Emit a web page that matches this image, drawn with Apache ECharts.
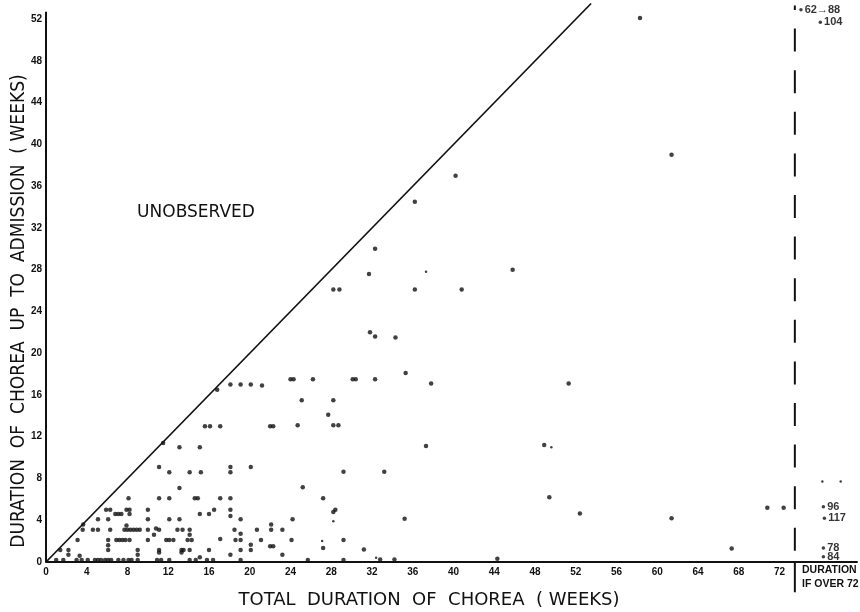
<!DOCTYPE html>
<html><head><meta charset="utf-8">
<script src="https://cdn.jsdelivr.net/npm/echarts@6/dist/echarts.min.js"></script>
<style>html,body{margin:0;padding:0;background:#fff}#c{width:860px;height:612px}</style>
</head><body><div id="c"></div>
<script>
// x = total duration of chorea (weeks), y = duration up to admission (weeks)
const upperPoints = [
[58.3,52.1],[61.4,39.0],[40.2,37.0],[36.2,34.5],[32.3,30.0],[31.7,27.6],[45.8,28.0],
[28.2,26.1],[28.8,26.1],[36.2,26.1],[40.8,26.1],[31.8,22.0],[32.3,21.6],[34.3,21.5],[35.3,18.1],
[24.0,17.5],[24.3,17.5],[26.2,17.5],[30.1,17.5],[30.4,17.5],[32.3,17.5],[37.8,17.1],[51.3,17.1],
[16.8,16.5],[18.1,17.0],[19.1,17.0],[20.1,17.0],[21.2,16.9],
[25.1,15.5],[28.2,15.5],[27.7,14.1],
[15.6,13.0],[16.1,13.0],[17.1,13.0],[22.0,13.0],[22.3,13.0],[24.7,13.1],[28.2,13.1],[28.7,13.1],
[11.5,11.4],[13.1,11.0],[15.1,11.0],[37.3,11.1],[48.9,11.2]
];
const midPoints = [
[11.1,9.1],[12.1,8.6],[14.1,8.6],[15.2,8.6],[18.1,9.1],[18.1,8.6],[20.1,9.1],[29.2,8.65],[33.2,8.65],
[13.1,7.1],[25.2,7.15],
[8.1,6.1],[11.1,6.1],[12.1,6.1],[14.6,6.1],[14.9,6.1],[17.1,6.1],[18.1,6.1],[27.2,6.1],[49.4,6.2],
[5.9,5.0],[6.3,5.0],[7.9,5.0],[8.2,5.0],[10.0,5.0],[16.5,5.0],[18.1,5.0],[28.4,5.0],[28.2,4.8],
[52.4,4.65],[70.8,5.2],[72.4,5.2]
];
const lowLeftPoints = [
[6.8,4.6],[7.1,4.6],[7.4,4.6],[8.2,4.6],
[5.1,4.1],[6.1,4.1],[10.0,4.1],[3.65,3.6],
[3.6,3.1],[4.6,3.1],[5.1,3.1],[6.3,3.1],[7.7,3.1],[8.0,3.1],[8.3,3.1],[8.6,3.1],[8.9,3.1],[9.2,3.1],[7.9,3.5],[10.0,3.1],
[3.1,2.1],[6.1,2.1],[6.9,2.1],[7.2,2.1],[7.5,2.1],[7.8,2.1],[8.2,2.1],[10.0,2.1],
[6.1,1.6],[1.4,1.15],[2.2,1.15],[6.1,1.15],[9.0,1.15],[2.2,0.7],[9.0,0.7],
[1.0,0.2],[1.7,0.2],[3.0,0.2],[3.3,0.6],[3.5,0.2],[4.1,0.2],[4.8,0.2],[5.1,0.2],[5.4,0.2],[5.8,0.2],
[6.1,0.2],[6.4,0.2],[7.1,0.2],[7.6,0.2],[8.1,0.2],[8.4,0.2],[9.0,0.2]
];
const lowRightPoints = [
[15.1,4.6],[16.0,4.6],[18.1,4.4],[12.1,4.1],[13.1,4.1],[19.1,4.1],[24.2,4.1],[35.2,4.15],[61.4,4.2],
[10.8,3.2],[11.1,3.1],[12.9,3.1],[13.4,3.1],[14.1,3.1],[14.1,2.6],[18.5,3.1],[19.1,2.7],[22.1,3.6],[22.1,3.1],[20.7,3.1],[23.2,3.1],
[10.6,2.6],[11.8,2.1],[12.1,2.1],[12.5,2.1],[13.9,2.1],[14.3,2.1],[17.1,2.2],[18.6,2.1],[19.1,2.1],[21.1,2.1],[24.1,2.1],[29.2,2.1],
[20.1,1.65],[20.1,1.15],[11.1,1.15],[11.1,0.9],[13.3,1.15],[13.5,1.15],[13.3,0.9],[14.1,1.15],[16.0,1.15],[19.1,1.15],
[22.0,1.5],[22.3,1.5],[27.2,1.35],[31.2,1.2],[67.3,1.3],
[18.1,0.7],[23.2,0.7],
[19.1,0.2],[10.9,0.2],[11.3,0.2],[12.1,0.2],[14.1,0.2],[14.7,0.2],[15.1,0.45],[15.8,0.2],[16.4,0.2],
[25.7,0.2],[29.2,0.2],[32.8,0.25],[34.2,0.25],[44.3,0.3]
];
const smallPoints = [[49.6,11.0],[28.2,3.9],[27.1,2.0],[32.4,0.4],[37.3,27.8],[76.2,7.7],[78.0,7.7]];
// cases with total duration over 72 weeks (plotted beyond the cut-off line)
const overX = [74.1, 76.0, 76.3, 76.4, 76.3, 76.3];
const overY = [52.9, 51.7, 5.3, 4.2, 1.35, 0.5];
const overLabels = ['62\u219288', '104', '96', '117', '78', '84'];
const xTickMax = 72;
const yTickMax = 52;
const cutoff = 73.5;

const ink = '#111';
const chart = echarts.init(document.getElementById('c'));
const mainPts = upperPoints.concat(midPoints, lowLeftPoints, lowRightPoints);
const lineS = (data, extra) => Object.assign({
  type: 'line', data, symbol: 'none', silent: true, animation: false,
  lineStyle: { color: ink, width: 2 }
}, extra);

chart.setOption({
  animation: false,
  backgroundColor: '#fff',
  grid: { left: 46, right: 0, top: 3.5, bottom: 50 },
  xAxis: {
    type: 'value', min: 0, max: 79.6, interval: 4,
    axisLine: { show: true, lineStyle: { color: ink, width: 2 } },
    axisTick: { show: false }, splitLine: { show: false },
    axisLabel: {
      margin: 5, color: ink, fontSize: 10, fontWeight: 'bold', fontFamily: 'Liberation Sans',
      formatter: v => (v <= xTickMax ? String(v) : '')
    }
  },
  yAxis: {
    type: 'value', min: 0, max: 53.5, interval: 4,
    axisLine: { show: false }, axisTick: { show: false }, splitLine: { show: false },
    axisLabel: {
      margin: 4, color: ink, fontSize: 10, fontWeight: 'bold', fontFamily: 'Liberation Sans',
      formatter: v => (v % 4 === 0 && v <= yTickMax ? String(v) : '')
    }
  },
  series: [
    lineS([[0, 0], [53.5, 53.5]], { lineStyle: { color: ink, width: 1.7 } }),
    lineS([[0, 0], [0, 52.7]], { clip: false }),
    lineS([[cutoff, 53.3], [cutoff, 0]], { lineStyle: { color: ink, width: 2, type: [23, 18.6], dashOffset: 18.6 } }),
    lineS([[cutoff, 0], [cutoff, -2.9]], { clip: false }),
    { type: 'scatter', data: mainPts, symbolSize: 4.5, itemStyle: { color: ink }, silent: true, animation: false },
    { type: 'scatter', data: smallPoints, symbolSize: 2.5, itemStyle: { color: ink }, silent: true, animation: false },
    {
      type: 'scatter', data: overX.map((x, i) => [x, overY[i]]), symbolSize: 3.5,
      itemStyle: { color: ink }, silent: true, animation: false,
      label: {
        show: true, position: 'right', distance: 2, color: '#000',
        fontSize: 11, fontWeight: 'bold', fontFamily: 'Liberation Sans',
        formatter: p => overLabels[p.dataIndex]
      }
    }
  ],
  graphic: [
    { type: 'text', x: 196, y: 213, style: { text: 'UNOBSERVED', fill: ink, font: '17px "DejaVu Sans"', textAlign: 'center', textVerticalAlign: 'middle' } },
    { type: 'text', x: 19, y: 311, rotation: Math.PI / 2, style: { text: 'DURATION  OF  CHOREA  UP  TO  ADMISSION  ( WEEKS)', fill: ink, font: '19px "DejaVu Sans Condensed", "DejaVu Sans"', textAlign: 'center', textVerticalAlign: 'middle' } },
    { type: 'text', x: 429, y: 600, style: { text: 'TOTAL  DURATION  OF  CHOREA  ( WEEKS)', fill: ink, font: '18px "DejaVu Sans"', textAlign: 'center', textVerticalAlign: 'middle' } },
    { type: 'text', x: 802, y: 563, style: { text: 'DURATION\nIF OVER 72', fill: ink, font: 'bold 10.5px "Liberation Sans"', lineHeight: 14, textAlign: 'left', textVerticalAlign: 'top' } }
  ]
});
</script>
</body></html>
